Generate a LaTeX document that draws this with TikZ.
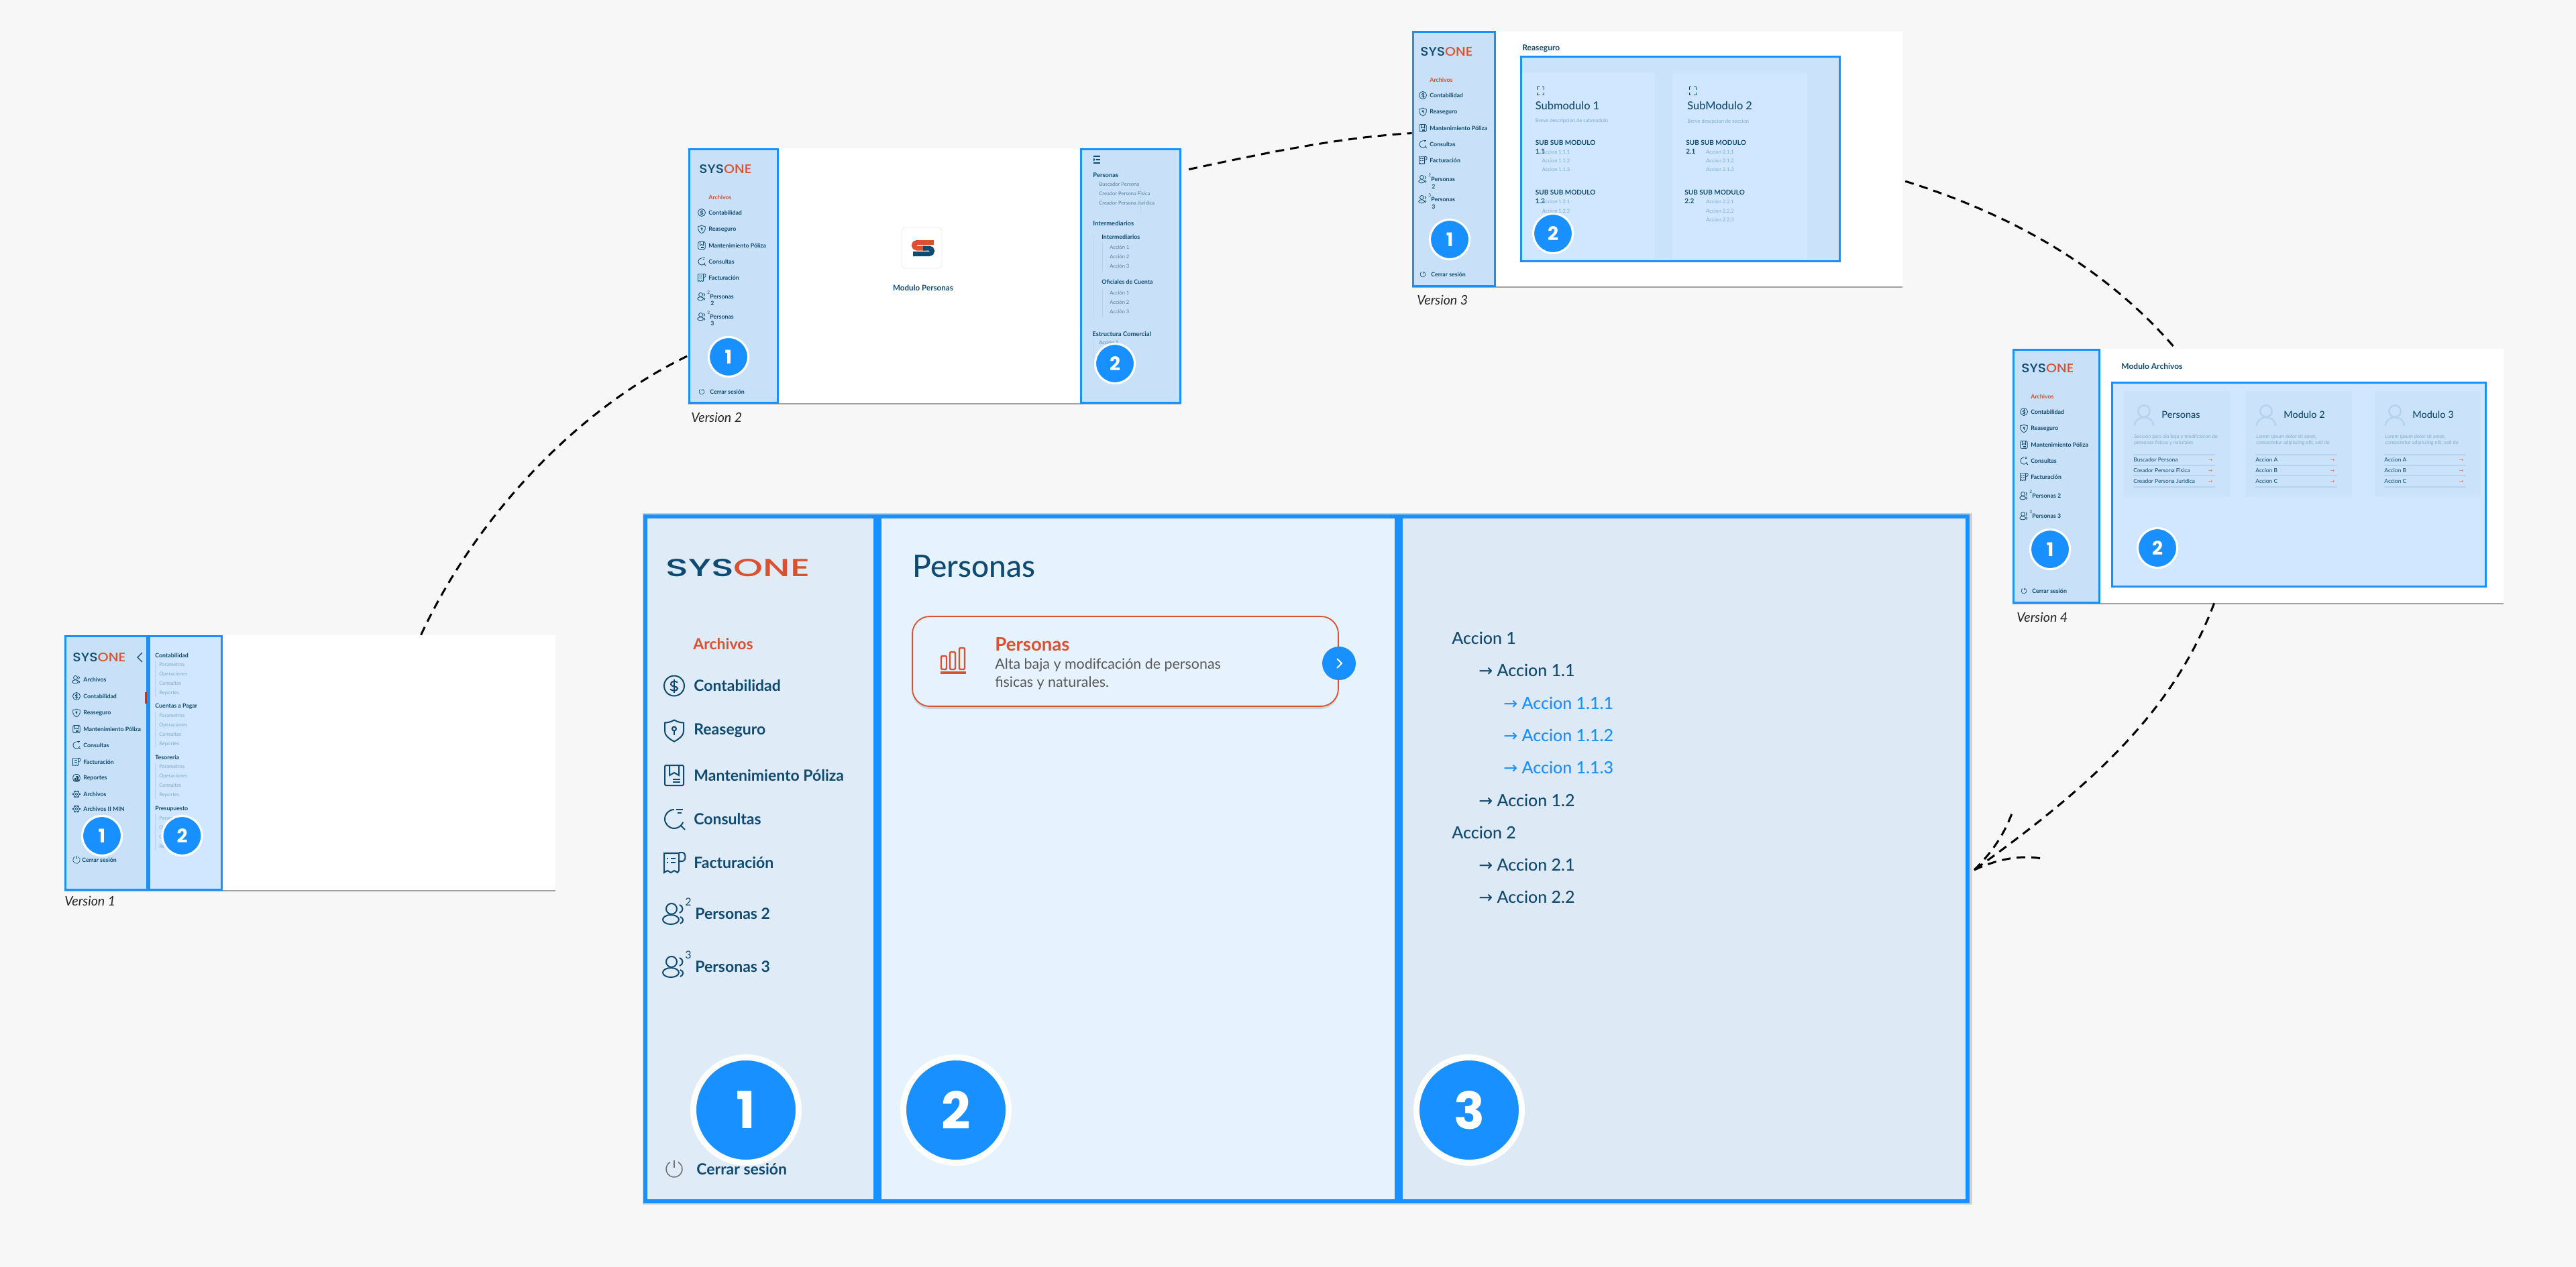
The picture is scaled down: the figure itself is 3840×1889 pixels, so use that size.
\documentclass[tikz,border=0pt]{standalone}
\usepackage{fontspec}
\usepackage{graphicx}
\setmainfont{Lato}
\newfontfamily\medfont{Lato Medium}
\newfontfamily\logofont{Poppins Medium}
\newfontfamily\badgefont{Poppins}
\newfontfamily\symfont{DejaVu Sans}
\usetikzlibrary{fit,shadows}

\definecolor{bgpage}{HTML}{F7F7F7}
\definecolor{framebl}{HTML}{1890FF}
\definecolor{navy}{HTML}{0F4A70}
\definecolor{orn}{HTML}{D9512F}
\definecolor{sidethumb}{HTML}{C9E1F8}
\definecolor{panelthumb}{HTML}{D0E7FF}
\definecolor{cardthumb}{HTML}{CBE3FA}
\definecolor{subtxt}{HTML}{7FA8CC}
\definecolor{rulethumb}{HTML}{B6D2EC}
\definecolor{sidemain}{HTML}{DFEBF7}
\definecolor{panelmain}{HTML}{E6F3FF}
\definecolor{listmain}{HTML}{DDE9F5}

\newcommand{\fs}[1]{\fontsize{#1}{#1}\selectfont}
\newcommand{\sysone}[2]{\resizebox{#1}{#2}{\logofont\textcolor{navy}{SYS}\textcolor{orn}{ONE}}}

% icons, about 30 units wide
\newcommand{\icoin}{\draw (0,0) circle (15);
  \draw (5,-5) .. controls (2,-8) and (-6,-7) .. (-5,-2) .. controls (-4,2) and (5,0) .. (5,4) .. controls (5,8) and (-3,8) .. (-6,5);
  \draw (0,-10) -- (0,10);}
\newcommand{\ishield}{\draw (0,-16) .. controls (-5,-13) and (-10,-12) .. (-14,-12) -- (-14,0) .. controls (-14,8) and (-6,13) .. (0,16) .. controls (6,13) and (14,8) .. (14,0) -- (14,-12) .. controls (10,-12) and (5,-13) .. (0,-16) -- cycle;
  \draw (0,-3) circle (3); \draw (0,0) -- (0,6);}
\newcommand{\ipoliza}{\draw[rounded corners=1pt] (-14,-15) rectangle (14,15);
  \draw (-7,-14) -- (-7,0) -- (0,-4) -- (7,0) -- (7,-14);
  \draw (-2,6) -- (9,6); \draw (-2,10) -- (9,10);}
\newcommand{\ilupa}{\draw (0,-14) arc[start angle=270,end angle=20,radius=14];
  \draw (10,10) -- (16,16); \draw (3,-14) -- (13,-14); \draw (5,-9) -- (11,-9);}
\newcommand{\ifactura}{\draw (-15,-14) -- (-15,15) -- (-10,12) -- (-5,15) -- (0,12) -- (5,15) -- (7,12) -- (7,-14) -- cycle;
  \draw (7,-15) -- (12,-15) .. controls (18,-15) and (18,-2) .. (12,-2) -- (7,-2);
  \draw (-5,-6) -- (2,-6); \draw (-5,0) -- (2,0); \draw (-11,-6) -- (-9,-6); \draw (-11,0) -- (-9,0);}
\newcommand{\igente}{\draw (-4,-7) circle (8); \draw (-5,9) ellipse (12 and 7);
  \draw (8,-13) .. controls (14,-11) and (14,-3) .. (8,-1);
  \draw (9,5) .. controls (15,7) and (14,13) .. (9,15);}
\newcommand{\ipower}{\draw (0,-13) -- (0,-2); \draw (6,-10.4) arc[start angle=-60,end angle=240,radius=12];}
\newcommand{\ireporte}{\draw[rounded corners=2pt] (-14,-15) rectangle (14,15);
  \draw (-8,9) rectangle (-3,0); \draw (-2,9) rectangle (3,-8); \draw (4,9) rectangle (9,-4);}
\newcommand{\igear}{\draw (0,0) circle (5); \draw (0,0) circle (12);
  \foreach \a in {0,60,...,300} \draw[line width=1.2pt] (\a:12) -- (\a:15);}

\tikzset{
  pagebox/.style={fill=white,inner sep=0pt,drop shadow={shadow xshift=0pt,shadow yshift=-1.2pt,opacity=.35,fill=black}},
  thumbside/.style={draw=framebl,fill=sidethumb,line width=1.5pt,inner sep=0pt},
  thumbpanel/.style={draw=framebl,fill=panelthumb,line width=1.5pt,inner sep=0pt},
  mainpanel/.style={draw=framebl,line width=3pt,inner sep=0pt},
  thumbcard/.style={fill=cardthumb,inner sep=0pt},
  badgebig/.style={circle,fill=framebl,draw=white,line width=4.5pt,minimum size=78.5pt,inner sep=0pt,text=white,font=\badgefont\fs{38}\bfseries},
  badgesmall/.style={circle,fill=framebl,draw=white,line width=1.6pt,minimum size=29.5pt,inner sep=0pt,text=white,font=\badgefont\fs{14}\bfseries},
  mainlbl/.style={anchor=west,inner sep=0pt,text=navy,font=\fs{11.5}\bfseries},
  listlbl/.style={anchor=west,inner sep=0pt,text=navy,font=\medfont\fs{12.5}},
  thumblbl/.style={anchor=west,inner sep=0pt,text=navy,font=\fs{4.4}\bfseries},
  headlbl/.style={anchor=west,inner sep=0pt,text=navy,font=\fs{4.4}\bfseries},
  sublbl/.style={anchor=west,inner sep=0pt,text=subtxt,font=\fs{3.8}},
  versionlbl/.style={anchor=west,inner sep=0pt,text=black!85,font=\fs{9.8}\itshape},
  conn/.style={draw=black,line width=1.5pt,dash pattern=on 6.5pt off 4.5pt},
  thinrule/.style={draw=rulethumb,line width=.4pt},
}

\newcommand{\thumbnav}[5]{%
  \begin{scope}[shift={(#2,#3)}]
    \node[anchor=west,inner sep=0pt] (#1logo) at (-14,-42) {\sysone{39pt}{6.5pt}};
    \node[thumblbl,text=orn] (#1arch) at (0,0) {Archivos};
    \foreach \nm/\ic/\txt/\yy in {cont/\icoin/Contabilidad/23,reas/\ishield/Reaseguro/48,mant/\ipoliza/Mantenimiento Póliza/72,cons/\ilupa/Consultas/96,fact/\ifactura/Facturación/120}{
      \begin{scope}[shift={(-10,\yy)},scale=.37,line width=.4pt,navy] \ic \end{scope}
      \node[thumblbl] (#1\nm) at (0,\yy) {\txt};
    }
    \foreach \nm/\txt/\sup/\yy in {pa/#4/2/148,pb/#5/3/178}{
      \begin{scope}[shift={(-10,\yy)},scale=.37,line width=.4pt,navy] \igente \end{scope}
      \node[thumblbl,font=\fs{3.2}] (#1\nm s) at (-2,{\yy-6}) {\sup};
      \node[thumblbl] (#1\nm) at (2,\yy) {\txt};
    }
    \begin{scope}[shift={(-10,290)},scale=.33,line width=.3pt,navy] \ipower \end{scope}
    \node[thumblbl] (#1exit) at (2,290) {Cerrar sesión};
  \end{scope}
}

\begin{document}
\begin{tikzpicture}[x=0.5pt,y=-0.5pt]
  \useasboundingbox (0,0) rectangle (3840,1889);
  \fill[bgpage] (0,0) rectangle (3840,1889);

  % version 1
  \node[pagebox,fit={(96,947) (828,1327)}] (v1page) {};
  \node[thumbside,fit={(97,948) (219,1326)}] (v1side) {};
  \node[thumbpanel,fit={(222,948) (330,1326)}] (v1panel) {};
  \node[anchor=west,inner sep=0pt] (v1logo) at (108,980) {\sysone{39.5pt}{6.5pt}};
  \draw[navy,line width=.6pt] (212,973) -- (205,980) -- (212,987);
  \fill[orn!80!black] (216,1032) rectangle (219,1049);
  \foreach \nm/\ic/\txt/\yy in {arch/\igente/Archivos/1013,cont/\icoin/Contabilidad/1038,reas/\ishield/Reaseguro/1063,mant/\ipoliza/Mantenimiento Póliza/1087,cons/\ilupa/Consultas/1111,fact/\ifactura/Facturación/1136,repo/\ireporte/Reportes/1160,arcb/\igear/Archivos/1184,arcc/\igear/Archivos II MIN/1206}{
    \begin{scope}[shift={(114,\yy)},scale=.37,line width=.4pt,navy] \ic \end{scope}
    \node[thumblbl] (v1\nm) at (124,\yy) {\txt};
  }
  \begin{scope}[shift={(114,1282)},scale=.45,line width=.3pt,navy] \ipower \end{scope}
  \node[thumblbl] (v1exit) at (122,1282) {Cerrar sesión};
  \foreach \nm/\txt/\yy in {a/Contabilidad/977,b/Cuentas a Pagar/1053,c/Tesoreria/1129,d/Presupuesto/1206}{
    \node[headlbl] (v1head\nm) at (231,\yy) {\txt};
    \draw[thinrule] (231,{\yy+8}) -- (231,{\yy+62});
    \foreach \j/\sub/\dy in {1/Parametros/14,2/Operaciones/28,3/Consultas/42,4/Reportes/56}
      \node[sublbl] (v1sub\nm\j) at (237,{\yy+\dy}) {\sub};
  }
  \node[badgesmall] (v1one) at (152,1246) {1};
  \node[badgesmall] (v1two) at (271.5,1246) {2};
  \node[versionlbl] (v1ver) at (96,1343) {Version 1};

  % version 2
  \node[pagebox,fit={(1026,221) (1760,601)}] (v2page) {};
  \node[thumbside,fit={(1027,222) (1159,600)}] (v2side) {};
  \node[thumbpanel,fill=sidethumb,fit={(1611,222) (1759,600)}] (v2panel) {};
  \thumbnav{v2}{1056}{294}{Personas}{Personas}
  \foreach \nm/\num/\yy in {a/2/452,b/3/482}
    \node[thumblbl] (v2num\nm) at (1059,\yy) {\num};
  \draw[navy,line width=.6pt] (1630,233) -- (1640,233);
  \draw[navy,line width=.6pt] (1634,238) -- (1640,238);
  \draw[navy,line width=.6pt] (1630,243) -- (1640,243);
  \fill[navy] (1630,235.5) -- (1633,238) -- (1630,240.5) -- cycle;
  \node[draw=black!8,fill=white,rounded corners=3pt,inner sep=0pt,fit={(1344,339) (1404,400)}] (v2tile) {};
  \draw[orn,line width=3.5pt] (1392,361.5) -- (1367,361.5) .. controls (1361,361.5) and (1361,370) .. (1367,370) -- (1380,370);
  \draw[navy,line width=3.5pt] (1376,370) -- (1385,370) .. controls (1391,370) and (1391,378.5) .. (1385,378.5) -- (1361,378.5);
  \node[inner sep=0pt,text=navy,font=\fs{5.8}\bfseries] (v2mod) at (1376,429) {Modulo Personas};
  \foreach \nm/\xx/\yy/\txt in {a/1629/261/Personas,b/1629/333/Intermediarios,c/1628/498/Estructura Comercial}
    \node[headlbl,font=\fs{4.7}\bfseries] (v2head\nm) at (\xx,\yy) {\txt};
  \foreach \nm/\xx/\yy/\txt in {a/1638/275/Buscador Persona,b/1638/289/Creador Persona Fisica,c/1638/303/Creador Persona Juridica,d/1654/369/Acción 1,e/1654/383/Acción 2,f/1654/397/Acción 3,g/1654/437/Acción 1,h/1654/451/Acción 2,i/1654/465/Acción 3,j/1638/511/Acción 1}
    \node[sublbl,text=navy!70] (v2sub\nm) at (\xx,\yy) {\txt};
  \node[headlbl] (v2inta) at (1642,353) {Intermediarios};
  \node[headlbl] (v2intb) at (1642,420) {Oficiales de Cuenta};
  \draw[thinrule] (1629,350) -- (1629,473);
  \draw[thinrule] (1643,362) -- (1643,405);
  \draw[thinrule] (1643,430) -- (1643,473);
  \draw[thinrule] (1700,279) -- (1700,316);
  \draw[thinrule] (1629,507) -- (1629,545);
  \node[badgesmall] (v2one) at (1086,532) {1};
  \node[badgesmall] (v2two) at (1662,542) {2};
  \node[versionlbl] (v2ver) at (1030,622) {Version 2};

  % version 3
  \node[pagebox,fit={(2105,47) (2836,427)}] (v3page) {};
  \node[thumbside,fit={(2106,48) (2228,426)}] (v3side) {};
  \thumbnav{v3}{2131}{119}{Personas}{Personas}
  \foreach \nm/\num/\yy in {a/2/278,b/3/308}
    \node[thumblbl] (v3num\nm) at (2134,\yy) {\num};
  \node[headlbl,font=\fs{6}\bfseries] (v3ttl) at (2269,72) {Reaseguro};
  \node[thumbpanel,fill=cardthumb,fit={(2267,85) (2742,389)}] (v3panel) {};
  \node[fill=panelthumb,inner sep=0pt,fit={(2269,108) (2467,387)}] (v3carda) {};
  \node[fill=panelthumb,inner sep=0pt,fit={(2493,109) (2694,387)}] (v3cardb) {};
  \foreach \xx in {2296.5,2523}{
    \draw[navy,line width=.5pt] ({\xx-5},134) |- ({\xx-2},130);
    \draw[navy,line width=.5pt] ({\xx+5},134) |- ({\xx+2},130);
    \draw[navy,line width=.5pt] ({\xx-5},138) |- ({\xx-2},142);
    \draw[navy,line width=.5pt] ({\xx+5},138) |- ({\xx+2},142);
  }
  \node[headlbl,font=\medfont\fs{8.2}] (v3suba) at (2288.5,158) {Submodulo 1};
  \node[headlbl,font=\medfont\fs{8.2}] (v3subb) at (2515,158) {SubModulo 2};
  \node[sublbl] (v3desa) at (2288.5,180) {Breve descripcion de submodulo};
  \node[sublbl] (v3desb) at (2515,181) {Breve descpcion de seccion};
  \foreach \nm/\xa/\xb/\yy/\num in {a/2288.5/2298.5/213/1.1,b/2288.5/2298.5/287/1.2,c/2513/2543/213/2.1,d/2511/2543/287/2.2}{
    \node[headlbl,font=\fs{5}\bfseries] (v3mod\nm) at (\xa,\yy) {SUB SUB MODULO};
    \node[headlbl,font=\fs{5}\bfseries] (v3num\nm) at (\xa,{\yy+13}) {\num};
  }
  \foreach \nm/\xx/\yy/\txt in {a/2298.5/227/Accion 1.1.1,b/2298.5/240/Accion 1.1.2,c/2298.5/253/Accion 1.1.3,d/2298.5/301/Accion 1.2.1,e/2298.5/315/Accion 1.2.2,f/2543/227/Accion 2.1.1,g/2543/240/Accion 2.1.2,h/2543/253/Accion 2.1.3,i/2543/301/Accion 2.2.1,j/2543/315/Accion 2.2.2,k/2543/328/Accion 2.2.3}
    \node[sublbl] (v3acc\nm) at (\xx,\yy) {\txt};
  \node[badgesmall] (v3one) at (2161,357) {1};
  \node[badgesmall] (v3two) at (2315,348) {2};
  \node[versionlbl] (v3ver) at (2112,447) {Version 3};

  % version 4
  \node[pagebox,fit={(3000,520) (3732,899)}] (v4page) {};
  \node[thumbside,fit={(3001,521) (3129,898)}] (v4side) {};
  \thumbnav{v4}{3027}{591}{Personas 2}{Personas 3}
  \node[headlbl,font=\fs{6}\bfseries] (v4ttl) at (3162,546) {Modulo Archivos};
  \node[thumbpanel,fit={(3148,570) (3705,874)}] (v4panel) {};
  \foreach \nm/\xx/\ttl/\da/\db/\ra/\rb/\rc in {a/3166/Personas/Seccion para ala baja y modifcaicon de/personas fisicas y naturales/Buscador Persona/Creador Persona Fisica/Creador Persona Juridica,
      b/3348/Modulo 2/{Lorem ipsum dolor sit amet,}/{consectetur adipiscing elit, sed do}/Accion A/Accion B/Accion C,
      c/3540/Modulo 3/{Lorem ipsum dolor sit amet,}/{consectetur adipiscing elit, sed do}/Accion A/Accion B/Accion C}{
    \node[thumbcard,fit={(\xx,583) ({\xx+158},741)}] (v4card\nm) {};
    \begin{scope}[shift={({\xx+30},0)},draw=rulethumb,line width=1.2pt]
      \draw (0,613) circle (8.7);
      \draw (-14,635) .. controls (-14,618) and (14,618) .. (14,635);
    \end{scope}
    \node[headlbl,font=\medfont\fs{7.2}] (v4ttl\nm) at ({\xx+56},618) {\ttl};
    \node[sublbl,font=\fs{3.7}] (v4da\nm) at ({\xx+15},651) {\da};
    \node[sublbl,font=\fs{3.7}] (v4db\nm) at ({\xx+15},660) {\db};
    \foreach \yy in {678,694,709,726}
      \draw[draw=rulethumb,line width=.7pt] ({\xx+14},\yy) -- ({\xx+136},\yy);
    \node[headlbl,font=\fs{4.2}] (v4ra\nm) at ({\xx+14},685) {\ra};
    \node[headlbl,font=\fs{4.2}] (v4rb\nm) at ({\xx+14},701) {\rb};
    \node[headlbl,font=\fs{4.2}] (v4rc\nm) at ({\xx+14},717) {\rc};
    \foreach \j/\yy in {a/686,b/702,c/718}
      \node[inner sep=0pt,text=orn!80,font=\symfont\fs{4}] (v4arr\nm\j) at ({\xx+129},\yy) {→};
  }
  \node[badgesmall] (v4one) at (3056,819) {1};
  \node[badgesmall] (v4two) at (3216,817) {2};
  \node[versionlbl] (v4ver) at (3006,920) {Version 4};

  % main screen
  \node[fill=black!18,inner sep=0pt,fit={(958,765) (2940,1796)}] (mainpage) {};
  \node[mainpanel,fill=sidemain,fit={(962,770) (1305,1791)}] (mainA) {};
  \node[mainpanel,fill=panelmain,fit={(1311,770) (2082,1791)}] (mainB) {};
  \node[mainpanel,fill=listmain,fit={(2088,770) (2933,1791)}] (mainC) {};
  \node[anchor=west,inner sep=0pt] (mainlogo) at (992,847) {\sysone{107.5pt}{13pt}};
  \node[mainlbl,text=orn] (mainarch) at (1033,960) {Archivos};
  \foreach \nm/\ic/\txt/\yy in {cont/\icoin/Contabilidad/1022.5,reas/\ishield/Reaseguro/1089.5,mant/\ipoliza/Mantenimiento Póliza/1156,cons/\ilupa/Consultas/1221,fact/\ifactura/Facturación/1286}{
    \begin{scope}[shift={(1005,\yy)},line width=1pt,navy] \ic \end{scope}
    \node[mainlbl] (main\nm) at (1034,\yy) {\txt};
  }
  \foreach \nm/\txt/\sup/\yy in {pa/Personas 2/2/1362,pb/Personas 3/3/1441}{
    \begin{scope}[shift={(1005,\yy)},line width=1pt,navy] \igente \end{scope}
    \node[mainlbl,font=\fs{8}] (main\nm s) at (1021,{\yy-17}) {\sup};
    \node[mainlbl] (main\nm) at (1036,\yy) {\txt};
  }
  \begin{scope}[shift={(1005,1743)},line width=.8pt,black!55] \ipower \end{scope}
  \node[mainlbl] (mainexit) at (1038,1743) {Cerrar sesión};

  \node[anchor=west,inner sep=0pt,text=navy,font=\medfont\fs{23}] (mainttl) at (1360,844) {Personas};
  \node[draw=orn,fill=panelmain,line width=.9pt,rounded corners=13pt,inner sep=0pt,fit={(1360,919) (1995,1053)},drop shadow={shadow xshift=0pt,shadow yshift=-2pt,opacity=.12,fill=black}] (maincard) {};
  \begin{scope}[shift={(1421,984)},orn,line width=1.2pt]
    \draw[rounded corners=1pt] (-18,14) rectangle (-10,-6);
    \draw[rounded corners=1pt] (-5,14) rectangle (3,-12);
    \draw[rounded corners=1pt] (9,14) rectangle (17,-18);
    \draw[line width=1.6pt] (-19,19) -- (19,19);
  \end{scope}
  \node[anchor=west,inner sep=0pt,text=orn,font=\fs{13.8}\bfseries] (maincardttl) at (1483,961) {Personas};
  \node[anchor=west,inner sep=0pt,text=black!65,font=\fs{10.7}] (maincarda) at (1483,992) {Alta baja y modifcación de personas};
  \node[anchor=west,inner sep=0pt,text=black!65,font=\fs{10.7}] (maincardb) at (1483,1018) {fisicas y naturales.};
  \node[circle,fill=framebl,minimum size=25pt,inner sep=0pt] (mainbtn) at (1996,989) {};
  \draw[white,line width=1pt] (1993,982) -- (2000,989) -- (1993,996);

  \foreach \nm/\xx/\yy/\txt in {a/2164/951/Accion 1,b/2204/999/{{\symfont→} Accion 1.1},c/2204/1193/{{\symfont→} Accion 1.2},d/2164/1241/Accion 2,e/2204/1289/{{\symfont→} Accion 2.1},f/2204/1337/{{\symfont→} Accion 2.2}}
    \node[listlbl] (mainlist\nm) at (\xx,\yy) {\txt};
  \foreach \nm/\yy/\txt in {g/1048/Accion 1.1.1,h/1096/Accion 1.1.2,i/1144/Accion 1.1.3}
    \node[listlbl,text=framebl] (mainlist\nm) at (2241,\yy) {{\symfont→} \txt};

  \node[badgebig] (mainone) at (1112,1655) {1};
  \node[badgebig] (maintwo) at (1425,1655) {2};
  \node[badgebig] (mainthree) at (2190,1655) {3};

  % connectors
  \coordinate (maintip) at (2943,1297);
  \coordinate (barbA) at (2999,1213);
  \coordinate (barbB) at (3043,1280);
  \draw[conn] (v1page.49.4) .. controls (710,770) and (860,610) .. (v2page.198);
  \draw[conn,shorten <=6pt] (v2page.23.7) .. controls (1900,225) and (2000,205) .. (v3page.174);
  \draw[conn,shorten <=2pt] (v3page.-5.5) .. controls (3000,320) and (3140,400) .. (v4page.123.6);
  \draw[conn] (v4page.251.4) .. controls (3240,1060) and (3120,1170) .. (maintip);
  \draw[conn] (maintip) .. controls (2965,1275) and (2985,1250) .. (barbA);
  \draw[conn] (maintip) .. controls (2975,1282) and (3010,1274) .. (barbB);
\end{tikzpicture}
\end{document}
